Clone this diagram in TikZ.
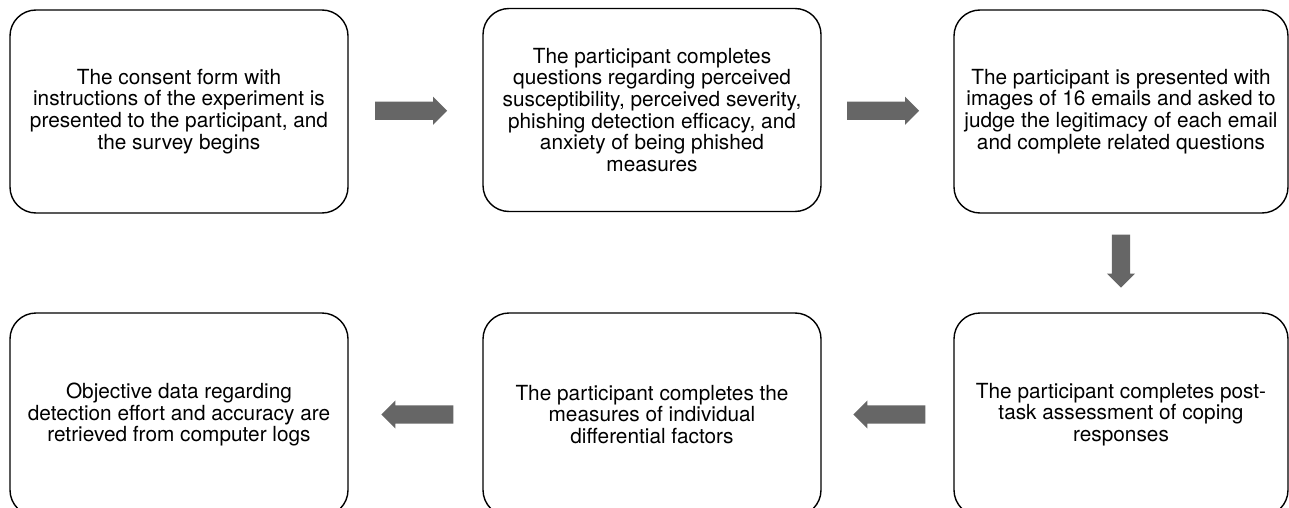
\documentclass[tikz,border=0pt]{standalone}
\usepackage{fontspec}
\setmainfont{TeX Gyre Heros}
\usetikzlibrary{shapes.arrows,calc}
\definecolor{arrowgray}{HTML}{666666}
\tikzset{
  stepbox/.style={draw=black, line width=1.4pt, rounded corners=26pt,
    minimum width=338pt, minimum height=203pt, align=center, inner sep=0pt,
    font=\fontsize{20.8}{21.7}\selectfont},
  flow/.style={single arrow, fill=arrowgray, draw=none, inner sep=9pt,
    single arrow head extend=5pt, minimum height=72pt, anchor=tip},
}
\begin{document}
\begin{tikzpicture}[x=1pt,y=-1pt]
\useasboundingbox (0,0) rectangle (1289,508);
\clip (0,0) rectangle (1289,508);

% upper row
\node[stepbox] (s1) at (179,111.5) {The consent form with\\instructions of the experiment is\\presented to the participant, and\\the survey begins};
\node[stepbox] (s2) at (652,110) {The participant completes\\questions regarding perceived\\susceptibility, perceived severity,\\phishing detection efficacy, and\\anxiety of being phished\\measures};
\node[stepbox, minimum width=334pt] (s3) at (1121,111.5) {The participant is presented with\\images of 16 emails and asked to\\judge the legitimacy of each email\\and complete related questions};

% lower row
\node[stepbox, minimum width=334pt] (s4) at (1121,414.5) {The participant completes post-\\task assessment of coping\\responses};
\node[stepbox] (s5) at (652,414.5) {The participant completes the\\measures of individual\\differential factors};
\node[stepbox] (s6) at (179,414.5) {Objective data regarding\\detection effort and accuracy are\\retrieved from computer logs};

% block arrows between the steps, placed by their tips
\node[flow, shape border rotate=0] (a12) at ($(s1.east)!0.5!(s2.west)+(32,0)$) {};
\node[flow, shape border rotate=0] (a23) at ($(s2.east)!0.5!(s3.west)+(32,0)$) {};
\node[flow, shape border rotate=270, minimum height=53pt] (a34) at ($(s3.south)!0.5!(s4.north)+(0,25)$) {};
\node[flow, shape border rotate=180] (a45) at ($(s4.west)!0.5!(s5.east)+(-34.5,0)$) {};
\node[flow, shape border rotate=180] (a56) at ($(s5.west)!0.5!(s6.east)+(-34.5,0)$) {};
\end{tikzpicture}
\end{document}
